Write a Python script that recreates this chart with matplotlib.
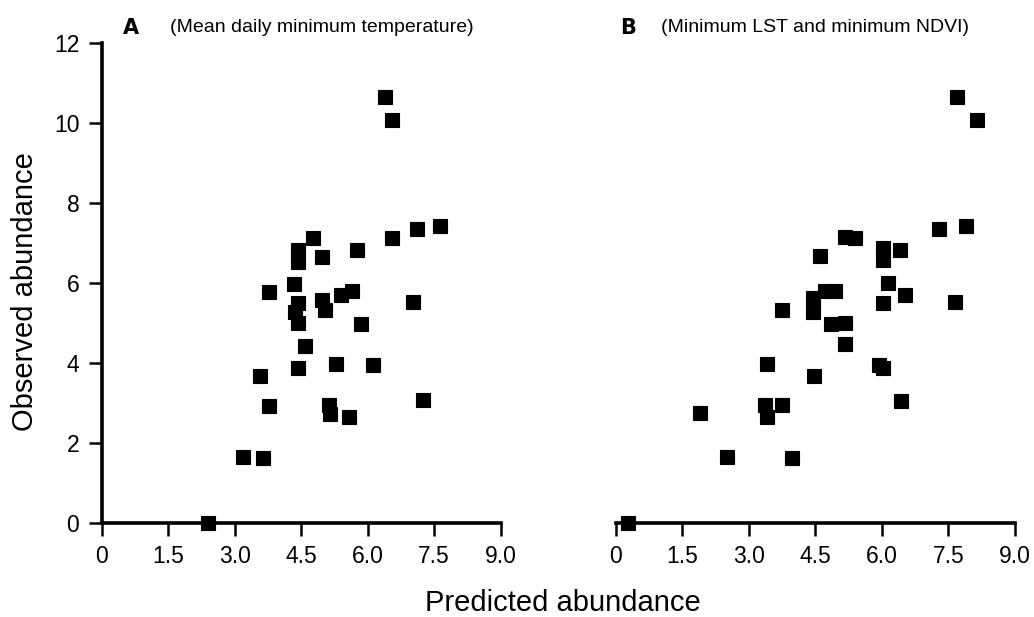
import matplotlib
matplotlib.use("Agg")
from matplotlib import pyplot as plt

plt.rcParams['font.family'] = ['Liberation Sans', 'DejaVu Sans']

# panel A: mean daily minimum temperature
pred_a = [6.40, 6.55, 7.63, 7.11, 6.55, 5.76, 4.77, 4.44, 4.44, 4.97,
          3.77, 4.33, 4.44, 4.37, 4.44, 4.97, 5.05, 5.41, 5.65, 7.02,
          5.85, 4.59, 4.44, 5.29, 6.12, 3.58, 3.77, 5.12, 5.16, 5.57,
          7.24, 3.19, 3.65, 2.39]
obs_a = [10.63, 10.07, 7.43, 7.34, 7.11, 6.82, 7.13, 6.82, 6.53, 6.65,
         5.78, 5.98, 5.49, 5.28, 4.99, 5.57, 5.33, 5.69, 5.79, 5.53,
         4.97, 4.42, 3.86, 3.98, 3.94, 3.67, 2.93, 2.94, 2.73, 2.65,
         3.07, 1.65, 1.61, 0.0]

# panel B: minimum LST and minimum NDVI
pred_b = [7.70, 8.15, 7.90, 7.29, 5.16, 5.40, 4.60, 6.03, 6.03, 6.42,
          6.13, 6.52, 7.66, 6.03, 4.71, 4.94, 4.44, 4.44, 3.74, 4.85,
          5.17, 5.16, 3.40, 5.94, 6.03, 4.47, 6.44, 3.36, 3.76, 3.40,
          1.90, 2.50, 3.98, 0.28]
obs_b = [10.63, 10.08, 7.43, 7.34, 7.14, 7.11, 6.67, 6.86, 6.57, 6.82,
         6.00, 5.69, 5.53, 5.50, 5.80, 5.80, 5.61, 5.28, 5.33, 4.97,
         4.99, 4.47, 3.98, 3.94, 3.86, 3.68, 3.05, 2.94, 2.94, 2.65,
         2.75, 1.65, 1.63, 0.0]

xticks = [0, 1.5, 3.0, 4.5, 6.0, 7.5, 9.0]
xticklabels = ['0', '1.5', '3.0', '4.5', '6.0', '7.5', '9.0']
yticks = [0, 2, 4, 6, 8, 10, 12]

fig = plt.figure(figsize=(10.34, 6.17), dpi=100)
ax1 = fig.add_axes([0.0982, 0.1528, 0.386, 0.778])
ax2 = fig.add_axes([0.5955, 0.1528, 0.386, 0.778])

for ax, x, y in [(ax1, pred_a, obs_a), (ax2, pred_b, obs_b)]:
    ax.plot(x, y, 's', color='black', markersize=10.5, clip_on=False,
            markeredgewidth=0.8, markeredgecolor='black')
    ax.set_xlim(0, 9)
    ax.set_ylim(0, 12)
    ax.set_xticks(xticks)
    ax.set_xticklabels(xticklabels)
    ax.spines['top'].set_visible(False)
    ax.spines['right'].set_visible(False)
    ax.spines['bottom'].set_linewidth(2.6)
    ax.spines['left'].set_linewidth(2.6)
    ax.tick_params(length=9.5, width=1.8, labelsize=16.5, pad=6.5)

ax1.set_yticks(yticks)
ax2.spines['left'].set_visible(False)
ax2.set_yticks([])

fig.text(0.119, 0.955, 'A', fontsize=15, fontweight='heavy', family='DejaVu Sans', va='center')
fig.text(0.164, 0.955, '(Mean daily minimum temperature)', fontsize=14, va='center')
fig.text(0.6, 0.955, 'B', fontsize=15, fontweight='heavy', family='DejaVu Sans', va='center')
fig.text(0.639, 0.955, '(Minimum LST and minimum NDVI)', fontsize=14, va='center')

fig.text(0.024, 0.528, 'Observed abundance', rotation=90, fontsize=21, ha='center', va='center')
fig.text(0.544, 0.009, 'Predicted abundance', fontsize=21, ha='center', va='baseline')

fig.savefig('out.png', dpi=100)
